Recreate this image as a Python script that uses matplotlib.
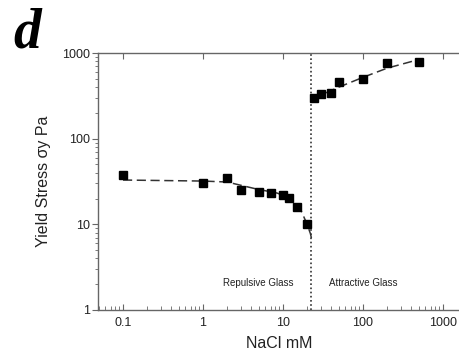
import matplotlib
matplotlib.use("Agg")
import matplotlib.pyplot as plt
from matplotlib.ticker import LogLocator, NullFormatter, FixedLocator

plt.rcParams['font.family'] = ['Liberation Sans', 'DejaVu Sans']

# Measured data (NaCl mM vs yield stress Pa)
rep_x = [0.1, 1, 2, 3, 5, 7, 10, 12, 15, 20]
rep_y = [38, 30, 35, 25, 24, 23, 22, 20.5, 16, 10]
att_x = [24.5, 30, 40, 50, 100, 200, 500]
att_y = [300, 335, 345, 455, 500, 760, 780]

# Dashed guide curves
rep_fit_x = [0.1, 1, 2, 4.7, 8.4, 12.2, 16.3, 20, 22, 23]
rep_fit_y = [32.9, 32, 31.2, 25.8, 23.2, 20.3, 15.5, 10, 7.8, 6.5]
att_fit_x = [24, 50, 100, 200, 500]
att_fit_y = [295, 400, 520, 665, 840]

boundary_x = 22.4
region_labels = ["Repulsive Glass", "Attractive Glass"]
region_label_x = [4.9, 100]
region_label_y = 2.05

fig = plt.figure(figsize=(4.6, 3.6), dpi=100)
ax = fig.add_axes([98/460, 50/360, 362/460, 257/360])
ax.set_xscale('log')
ax.set_yscale('log')
ax.set_xlim(0.0487, 1630)
ax.set_ylim(1, 1000)

ax.plot(rep_fit_x, rep_fit_y, color='#333333', lw=1.1, dashes=(6, 3))
ax.plot(att_fit_x, att_fit_y, color='#333333', lw=1.1, dashes=(6, 3))
ax.plot(rep_x, rep_y, 's', color='black', ms=5.6, zorder=3)
ax.plot(att_x, att_y, 's', color='black', ms=5.6, zorder=3)
ax.axvline(boundary_x, color='#333333', lw=1.2, ls=(0, (1, 1.5)))

for lbl, lx in zip(region_labels, region_label_x):
    ax.text(lx, region_label_y, lbl, ha='center', va='center', fontsize=7, color='#222222')

ax.spines['right'].set_visible(False)
for s in ['left', 'bottom', 'top']:
    ax.spines[s].set_color('#666666')
    ax.spines[s].set_linewidth(1.0)

ax.xaxis.set_major_locator(FixedLocator([0.1, 1, 10, 100, 1000]))
ax.set_xticklabels(['0.1', '1', '10', '100', '1000'])
ax.xaxis.set_minor_locator(LogLocator(base=10, subs=range(2, 10), numticks=20))
ax.xaxis.set_minor_formatter(NullFormatter())
ax.tick_params(axis='x', which='both', direction='in', top=True, bottom=True,
               labeltop=False, colors='#666666', labelcolor='#222222', labelsize=9, pad=5)
ax.tick_params(axis='x', which='minor', top=False, length=3)
ax.tick_params(axis='x', which='major', length=4)

ax.yaxis.set_major_locator(FixedLocator([1, 10, 100, 1000]))
ax.set_yticklabels(['1', '10', '100', '1000'])
ax.yaxis.set_minor_locator(LogLocator(base=10, subs=range(2, 10), numticks=20))
ax.yaxis.set_minor_formatter(NullFormatter())
ax.tick_params(axis='y', which='both', direction='out', colors='#666666',
               labelcolor='#222222', labelsize=9, pad=2)
ax.tick_params(axis='y', which='minor', length=2)
ax.tick_params(axis='y', which='major', length=4)

ax.set_xlabel('NaCl mM', fontsize=11.5, color='#222222', labelpad=5)
ax.set_ylabel('Yield Stress σy Pa', fontsize=11.5, color='#222222', labelpad=8)

fig.text(13/460, 1 - 48/360, 'd', fontsize=40, fontweight='bold', fontstyle='italic',
         family=['Liberation Serif', 'DejaVu Serif'], color='black')

fig.savefig('out.png', dpi=100)
